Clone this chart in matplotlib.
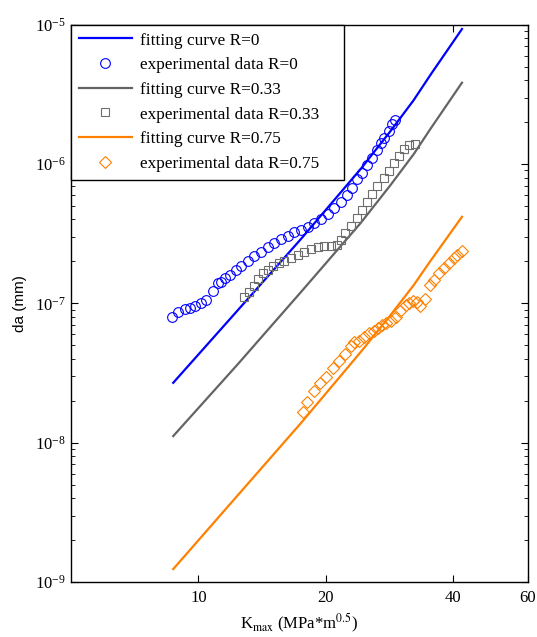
import matplotlib
matplotlib.use("Agg")
import matplotlib.pyplot as plt
from matplotlib.ticker import FixedLocator, FixedFormatter, LogLocator, NullLocator, NullFormatter

plt.rcParams['font.family'] = ['Liberation Serif', 'DejaVu Serif']
plt.rcParams['mathtext.fontset'] = 'stix'

# ---- data ----
fit_K = [8.72, 12.40, 17.47, 24.18, 28.45, 32.28, 35.33, 41.96]
fit_R0 = [2.69e-8, 8.95e-8, 2.894e-7, 9.21e-7, 1.725e-6, 2.88e-6, 4.355e-6, 9.31e-6]

fit_K033 = [8.72, 12.40, 17.47, 24.18, 28.45, 32.28, 35.33, 41.96]
fit_R033 = [1.115e-8, 3.667e-8, 1.205e-7, 3.772e-7, 7.07e-7, 1.179e-6, 1.784e-6, 3.835e-6]

fit_K075 = [8.72, 12.40, 17.47, 24.18, 28.45, 32.28, 35.33, 41.96]
fit_R075 = [1.238e-9, 4.205e-9, 1.382e-8, 4.47e-8, 8.24e-8, 1.353e-7, 2.012e-7, 4.18e-7]

exp_K_R0 = [8.639, 8.959, 9.285, 9.540, 9.801, 10.16, 10.44, 10.83, 11.13, 11.33,
            11.53, 11.85, 12.28, 12.62, 13.09, 13.57, 14.07, 14.59, 15.12, 15.68,
            16.26, 16.85, 17.47, 18.12, 18.78, 19.47, 20.19, 20.93, 21.70, 22.50,
            23.12, 23.76, 24.41, 25.07, 25.76, 26.47, 26.95, 27.44, 28.19, 28.71, 29.15]
exp_da_R0 = [7.95e-8, 8.70e-8, 9.06e-8, 9.33e-8, 9.53e-8, 1.000e-7, 1.065e-7, 1.225e-7, 1.392e-7, 1.429e-7,
             1.511e-7, 1.596e-7, 1.734e-7, 1.868e-7, 2.029e-7, 2.185e-7, 2.354e-7, 2.557e-7, 2.732e-7, 2.918e-7,
             3.066e-7, 3.249e-7, 3.359e-7, 3.548e-7, 3.753e-7, 4.063e-7, 4.41e-7, 4.872e-7, 5.336e-7, 5.99e-7,
             6.69e-7, 7.80e-7, 8.58e-7, 9.83e-7, 1.113e-6, 1.260e-6, 1.408e-6, 1.549e-6, 1.725e-6, 1.937e-6, 2.07e-6]

exp_K_R033 = [12.85, 13.20, 13.51, 13.84, 14.20, 14.59, 15.01, 15.51, 15.96, 16.55,
              17.16, 17.79, 18.45, 19.12, 19.83, 20.56, 21.24, 21.71, 22.18, 22.91,
              23.76, 24.41, 25.07, 25.76, 26.47, 27.44, 28.19, 28.96, 29.76, 30.58, 31.42, 32.58]
exp_da_R033 = [1.115e-7, 1.211e-7, 1.331e-7, 1.494e-7, 1.642e-7, 1.748e-7, 1.868e-7, 1.937e-7, 2.002e-7, 2.104e-7,
               2.222e-7, 2.347e-7, 2.454e-7, 2.524e-7, 2.566e-7, 2.600e-7, 2.622e-7, 2.848e-7, 3.197e-7, 3.589e-7,
               4.095e-7, 4.674e-7, 5.362e-7, 6.088e-7, 6.95e-7, 7.93e-7, 8.91e-7, 1.012e-6, 1.141e-6, 1.281e-6, 1.369e-6, 1.392e-6]

exp_K_R075 = [17.63, 18.10, 18.78, 19.42, 20.00, 20.75, 21.50, 22.24, 22.91, 23.32,
              23.96, 24.62, 25.30, 25.95, 26.51, 27.10, 27.69, 28.45, 29.23, 30.03,
              30.86, 31.42, 32.23, 32.85, 33.47, 34.39, 35.33, 35.97, 36.96, 37.97,
              39.01, 40.09, 40.84, 41.96]
exp_da_R075 = [1.667e-8, 1.966e-8, 2.347e-8, 2.700e-8, 2.957e-8, 3.414e-8, 3.853e-8, 4.325e-8, 4.937e-8, 5.30e-8,
               5.405e-8, 5.727e-8, 6.09e-8, 6.38e-8, 6.65e-8, 7.04e-8, 7.22e-8, 7.46e-8, 8.04e-8, 8.88e-8,
               9.72e-8, 1.0e-7, 1.047e-7, 1.022e-7, 9.64e-8, 1.074e-7, 1.353e-7, 1.470e-7, 1.642e-7, 1.783e-7,
               1.937e-7, 2.104e-7, 2.222e-7, 2.373e-7]

x_ticks = [10, 20, 40, 60]
x_tick_labels = ['10', '20', '40', '60']

# ---- figure ----
fig = plt.figure(figsize=(5.37, 6.37), dpi=100)
ax = fig.add_axes([71/537, 1-582/637, (527.7-71)/537, (582-24.7)/637])

blue = '#0000ff'
gray = '#646464'
gray_m = '#6e6e6e'
orange = '#ff8000'

ax.plot(fit_K, fit_R0, color=blue, lw=1.6, label='fitting curve R=0')
ax.plot(exp_K_R0, exp_da_R0, ls='none', marker='o', ms=7, mfc='none', mec=blue, mew=0.8,
        label='experimental data R=0')
ax.plot(fit_K033, fit_R033, color=gray, lw=1.6, label='fitting curve R=0.33')
ax.plot(exp_K_R033, exp_da_R033, ls='none', marker='s', ms=6, mfc='none', mec=gray_m, mew=0.8,
        label='experimental data R=0.33')
ax.plot(fit_K075, fit_R075, color=orange, lw=1.6, label='fitting curve R=0.75')
ax.plot(exp_K_R075, exp_da_R075, ls='none', marker='D', ms=6, mfc='none', mec=orange, mew=0.8,
        label='experimental data R=0.75')

ax.set_xscale('log')
ax.set_yscale('log')
ax.set_xlim(5, 60)
ax.set_ylim(1e-9, 1e-5)

ax.xaxis.set_major_locator(FixedLocator(x_ticks))
ax.xaxis.set_major_formatter(FixedFormatter(x_tick_labels))
ax.xaxis.set_minor_locator(NullLocator())
ax.xaxis.set_minor_formatter(NullFormatter())
ax.yaxis.set_major_locator(LogLocator(base=10, numticks=10))
ax.yaxis.set_minor_locator(LogLocator(base=10, subs=range(2, 10), numticks=20))
ax.yaxis.set_minor_formatter(NullFormatter())

ax.tick_params(which='both', direction='in', top=True, right=True, labelsize=12)
ax.tick_params(axis='x', which='major', pad=6)
ax.tick_params(which='major', length=5, width=0.8)
ax.tick_params(which='minor', length=3, width=0.6)
for s in ax.spines.values():
    s.set_linewidth(1.0)

ax.set_xlabel(r'K$_{\mathrm{max}}$ (MPa*m$^{0.5}$)', fontsize=12, labelpad=4)
ax.set_ylabel('da (mm)', fontsize=11, family=['Liberation Sans', 'DejaVu Sans'], labelpad=6)

leg = ax.legend(loc='upper left', bbox_to_anchor=(0, 0, (344 - 71) / 456.7, 1), mode='expand',
                borderaxespad=0, fontsize=12.4,
                frameon=True, fancybox=False, edgecolor='black', framealpha=1,
                handlelength=3.1, handletextpad=0.45, labelspacing=0.5, borderpad=0.45)
leg.get_frame().set_linewidth(1.0)

fig.savefig('out.png', dpi=100)
